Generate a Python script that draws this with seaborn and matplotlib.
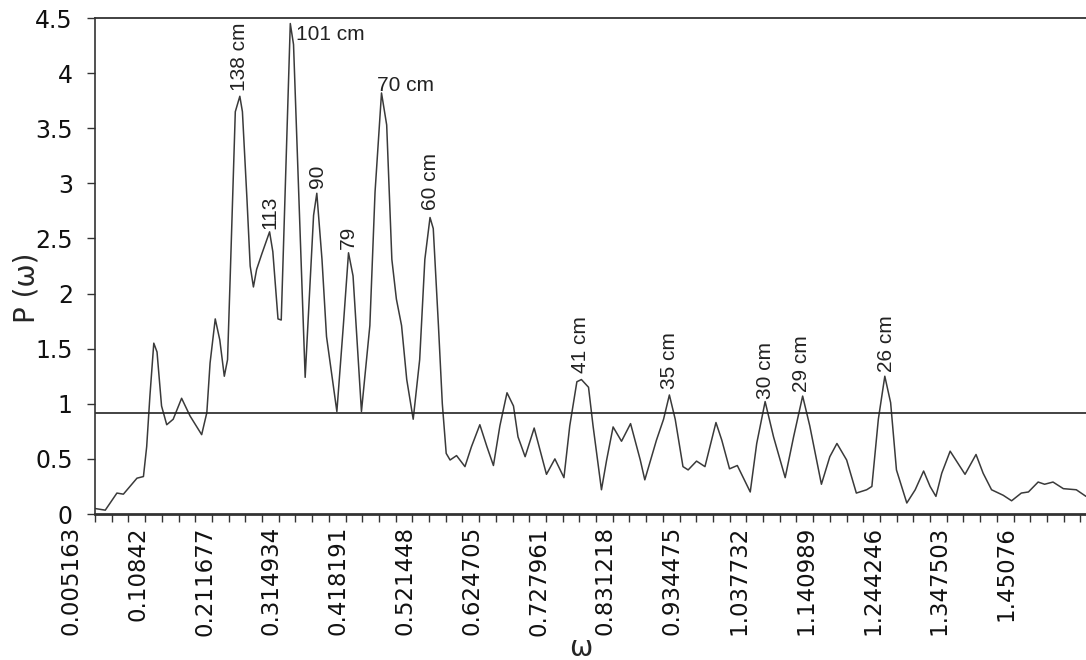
import numpy as np
import matplotlib
matplotlib.use("Agg")
import matplotlib.pyplot as plt
import matplotlib.transforms as mtransforms
import seaborn as sns

# periodogram
omega = [0.005, 0.021, 0.039, 0.049, 0.070, 0.080, 0.085, 0.090, 0.096, 0.101,
         0.108, 0.116, 0.126, 0.139, 0.152, 0.170, 0.178, 0.183, 0.191, 0.198,
         0.205, 0.210, 0.214, 0.222, 0.229, 0.233, 0.240, 0.245, 0.250, 0.255,
         0.263, 0.275, 0.280, 0.288, 0.293, 0.307, 0.312, 0.330, 0.343, 0.348,
         0.356, 0.363, 0.379, 0.389, 0.397, 0.404, 0.417, 0.430, 0.438, 0.448,
         0.456, 0.464, 0.471, 0.479, 0.487, 0.497, 0.507, 0.515, 0.523, 0.528,
         0.536, 0.542, 0.548, 0.554, 0.564, 0.577, 0.587, 0.600, 0.611, 0.621,
         0.631, 0.642, 0.652, 0.659, 0.670, 0.684, 0.693, 0.703, 0.716, 0.730,
         0.739, 0.750, 0.757, 0.768, 0.775, 0.788, 0.796, 0.806, 0.819, 0.833,
         0.848, 0.855, 0.873, 0.884, 0.893, 0.902, 0.914, 0.922, 0.935, 0.948,
         0.965, 0.974, 0.986, 0.998, 1.018, 1.028, 1.041, 1.054, 1.072, 1.085,
         1.099, 1.110, 1.128, 1.141, 1.152, 1.167, 1.182, 1.198, 1.206, 1.216,
         1.226, 1.235, 1.244, 1.260, 1.273, 1.286, 1.296, 1.305, 1.314, 1.327,
         1.339, 1.350, 1.367, 1.378, 1.391, 1.409, 1.422, 1.437, 1.448, 1.463,
         1.473, 1.486, 1.502, 1.522, 1.537]
power = [0.05, 0.035, 0.19, 0.18, 0.325, 0.34, 0.61, 1.07, 1.55, 1.47,
         0.98, 0.81, 0.86, 1.05, 0.89, 0.72, 0.92, 1.37, 1.77, 1.58,
         1.25, 1.40, 2.13, 3.65, 3.79, 3.65, 2.86, 2.25, 2.06, 2.22,
         2.36, 2.56, 2.38, 1.77, 1.76, 4.45, 4.26, 1.24, 2.71, 2.91,
         2.31, 1.61, 0.93, 1.71, 2.37, 2.16, 0.93, 1.71, 2.92, 3.82,
         3.53, 2.31, 1.95, 1.71, 1.22, 0.86, 1.40, 2.31, 2.69, 2.59,
         1.71, 1.00, 0.55, 0.49, 0.53, 0.43, 0.61, 0.81, 0.61, 0.44,
         0.80, 1.10, 0.98, 0.70, 0.52, 0.78, 0.58, 0.36, 0.50, 0.33,
         0.80, 1.20, 1.22, 1.15, 0.80, 0.22, 0.49, 0.79, 0.66, 0.82,
         0.49, 0.31, 0.67, 0.86, 1.08, 0.86, 0.43, 0.40, 0.48, 0.43,
         0.83, 0.67, 0.41, 0.44, 0.20, 0.64, 1.02, 0.70, 0.33, 0.70,
         1.07, 0.80, 0.27, 0.52, 0.64, 0.49, 0.19, 0.22, 0.25, 0.86,
         1.25, 1.01, 0.40, 0.10, 0.22, 0.39, 0.25, 0.16, 0.37, 0.57,
         0.46, 0.36, 0.54, 0.37, 0.22, 0.17, 0.12, 0.19, 0.20, 0.29,
         0.27, 0.29, 0.23, 0.22, 0.16]

threshold = 0.92

xtick_labels = ["0.005163", "0.10842", "0.211677", "0.314934", "0.418191",
                "0.521448", "0.624705", "0.727961", "0.831218", "0.934475",
                "1.037732", "1.140989", "1.244246", "1.347503", "1.45076"]
ytick_labels = ["0", "0.5", "1", "1.5", "2", "2.5", "3", "3.5", "4", "4.5"]

# peak labels: text, omega, power where the text starts
peak_text = ["138 cm", "113", "90", "79", "60 cm", "41 cm", "35 cm", "30 cm", "29 cm", "26 cm"]
peak_x = [0.228, 0.2756, 0.349, 0.397, 0.523, 0.755, 0.893, 1.041, 1.097, 1.228]
peak_y = [3.84, 2.59, 2.96, 2.40, 2.76, 1.28, 1.13, 1.04, 1.11, 1.29]
flat_text = ["101 cm", "70 cm"]
flat_x = [0.3158, 0.441]
flat_y = [4.35, 3.84]

sns.set_style("ticks")
plt.rcParams["font.family"] = ["DejaVu Sans"]

fig = plt.figure(figsize=(10.86, 6.6), dpi=100)
ax = fig.add_axes([0.0875, 0.2212, 0.9125, 0.7515])

sns.lineplot(x=omega, y=power, ax=ax, color="#3a3a3a", linewidth=1.1, sort=False)
ax.axhline(threshold, color="#222222", linewidth=1.2)

ax.set_xlim(0.005163, 1.537)
ax.set_ylim(0, 4.5)

ticks = [float(t) for t in xtick_labels]
ax.set_xticks(ticks)
ax.set_xticklabels([])
ax.set_xticks(np.arange(ticks[0], 1.537, (ticks[1] - ticks[0]) / 4), minor=True)
ax.set_yticks(np.arange(0, 4.51, 0.5))
ax.set_yticklabels(ytick_labels, fontsize=17, color="#111111")

# the x labels sit a little left of their ticks in the original
shift = mtransforms.ScaledTranslation(-24 / 100, -12 / 100, fig.dpi_scale_trans)
for t, lab in zip(ticks, xtick_labels):
    ax.text(t, 0, lab, transform=ax.get_xaxis_transform() + shift,
            rotation=90, ha="center", va="top", fontsize=16.5, color="#111111",
            clip_on=False)

ax.tick_params(axis="x", which="both", direction="out", length=6, width=1, color="#333333")
ax.tick_params(axis="y", direction="out", length=6, width=1, color="#333333", pad=10)

for side in ["left", "top", "bottom"]:
    ax.spines[side].set_color("#333333")
ax.spines["left"].set_linewidth(1.2)
ax.spines["top"].set_linewidth(1.3)
ax.spines["bottom"].set_linewidth(2.0)
ax.spines["right"].set_visible(False)

ax.set_xlabel("ω", fontsize=20, va="center")
ax.xaxis.set_label_coords(0.49, -0.27)
ax.set_ylabel("P (ω)", fontsize=20, va="center")
ax.yaxis.set_label_coords(-0.069, 0.456)

for t, x, y in zip(peak_text, peak_x, peak_y):
    ax.text(x, y, t, rotation=90, ha="center", va="bottom",
            fontsize=15, family="Liberation Sans", color="#222222")
for t, x, y in zip(flat_text, flat_x, flat_y):
    ax.text(x, y, t, ha="left", va="center" if t == "101 cm" else "baseline",
            fontsize=15, family="Liberation Sans", color="#222222")

fig.savefig("out.png", dpi=100)
